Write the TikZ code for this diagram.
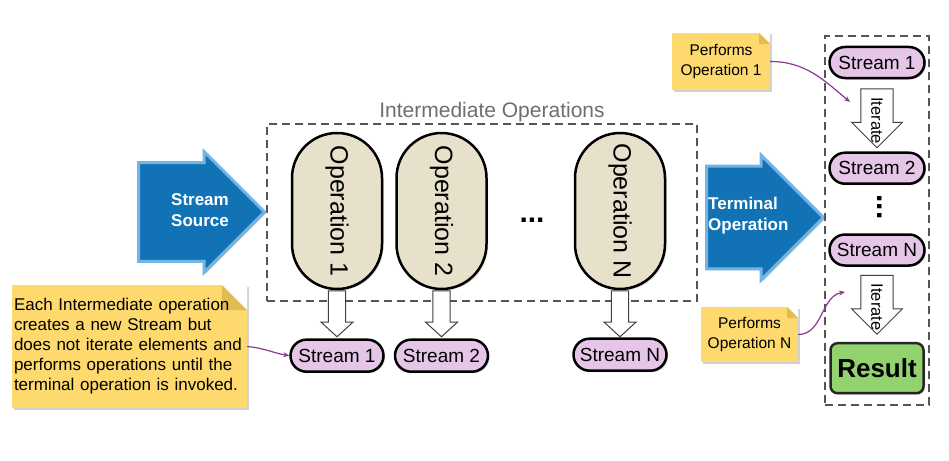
\documentclass[tikz,border=0pt]{standalone}
\usepackage{fontspec}
\setmainfont{Liberation Sans}
\usetikzlibrary{shapes.arrows, shapes.misc, positioning, arrows.meta, shadows}
\definecolor{flowBlue}{HTML}{1272B6}
\definecolor{flowRim}{HTML}{74B4E4}
\definecolor{opBeige}{HTML}{E7E1CC}
\definecolor{streamPink}{HTML}{E6C6E6}
\definecolor{resultGreen}{HTML}{92D36F}
\definecolor{noteYellow}{HTML}{FDD96E}
\definecolor{noteFold}{HTML}{E0BC52}
\definecolor{linkPurple}{HTML}{8A3A8E}
\definecolor{boxGray}{HTML}{555555}
\definecolor{titleGray}{HTML}{6E6E6E}
\tikzset{
  softshadow/.style={drop shadow={shadow xshift=1.5pt, shadow yshift=-1.5pt, fill=black, opacity=0.18}},
  bigarrow/.style={single arrow, draw=flowRim, fill=flowBlue, line width=3pt,
                   single arrow tip angle=90, inner xsep=0pt, softshadow},
  arrowlabel/.style={text=white, inner sep=0pt,
                     font=\fontsize{17}{21}\selectfont\bfseries},
  opbox/.style={draw=black, fill=opBeige, line width=2.5pt, rounded corners=45pt,
                minimum width=90pt, minimum height=156pt, inner sep=0pt,
                font=\fontsize{25}{30}\selectfont, softshadow},
  streamnode/.style={rounded rectangle, draw=black, fill=streamPink, line width=2.5pt,
                     minimum width=93pt, minimum height=32pt, inner sep=0pt,
                     font=\fontsize{19}{22}\selectfont, softshadow},
  downarrow/.style={single arrow, rotate=-90, draw=black!75, fill=white, line width=1pt,
                    single arrow tip angle=95,
                    minimum width=32pt, minimum height=46pt, inner sep=8pt},
  iterarrow/.style={single arrow, rotate=-90, draw=black!75, fill=white, line width=1pt,
                    single arrow tip angle=90,
                    minimum width=51pt, minimum height=59pt, inner xsep=0pt, inner ysep=6pt,
                    font=\fontsize{16.5}{20}\selectfont},
  resultnode/.style={draw=black!85, fill=resultGreen, line width=2.5pt, rounded corners=7pt,
                     minimum width=93pt, minimum height=50pt, inner sep=0pt,
                     font=\fontsize{26}{30}\selectfont\bfseries, softshadow},
  groupbox/.style={draw=boxGray, dash pattern=on 8pt off 5pt, line width=1.3pt, inner sep=0pt},
  grouptitle/.style={text=titleGray, inner sep=0pt, font=\fontsize{21}{25}\selectfont},
  dotsnode/.style={inner sep=0pt, font=\fontsize{30}{30}\selectfont\bfseries},
  note/.style={fill=noteYellow, inner sep=0pt, softshadow, path picture={
      \fill[white] ([xshift=-#1]path picture bounding box.north east)
        -- (path picture bounding box.north east)
        -- ([yshift=-#1]path picture bounding box.north east) -- cycle;
      \fill[noteFold] ([xshift=-#1]path picture bounding box.north east)
        -- ([yshift=-#1]path picture bounding box.north east)
        -- ([xshift=-#1,yshift=-#1]path picture bounding box.north east) -- cycle;}},
  note/.default=11pt,
  link/.style={draw=linkPurple, line width=1.2pt, -{Stealth[length=6pt,width=5pt]}},
}
\newcommand\iterlabel{\makebox[26pt][l]{Iterate}}

\begin{document}
\begin{tikzpicture}[x=1pt,y=1pt]
\useasboundingbox (0,0) rectangle (949,-460);

% intermediate part
\node[groupbox, minimum width=430pt, minimum height=177pt] (inter) at (482,-212.5) {};
\node[grouptitle, anchor=base] (intertitle) at (492,-117) {Intermediate Operations};
\node[bigarrow, minimum height=126pt, minimum width=121pt, inner ysep=30pt, anchor=tail] (source) at (137,-212) {};
\node[arrowlabel, align=center] (sourcetext) at (200,-210.5) {Stream\\Source};

\node[opbox] (op1) at (337,-211) {\rotatebox{-90}{Operation 1}};
\node[opbox] (op2) at (441.5,-211) {\rotatebox{-90}{Operation 2}};
\node[opbox] (opn) at (620,-211) {\rotatebox{-90}{Operation N}};
\node[dotsnode] (hdots) at (532,-220) {...};

\node[downarrow, anchor=tail] (d1) at (op1.south) {};
\node[downarrow, anchor=tail] (d2) at (op2.south) {};
\node[downarrow, anchor=tail] (dn) at (opn.south) {};
\node[streamnode, anchor=north] (s1) at ([yshift=-1pt]d1.tip) {Stream 1};
\node[streamnode, anchor=north] (s2) at ([yshift=-1pt]d2.tip) {Stream 2};
\node[streamnode, anchor=north] (sn) at ([yshift=0pt]dn.tip) {Stream N};

% terminal part
\node[bigarrow, minimum height=117pt, minimum width=125pt, inner ysep=31.5pt, anchor=tail] (term) at (705,-217.5) {};
\node[arrowlabel, align=left, anchor=west] (termtext) at ([xshift=3pt,yshift=2pt]term.tail) {Terminal\\Operation};

\node[groupbox, minimum width=104pt, minimum height=369pt] (termbox) at (877,-220.5) {};
\node[streamnode, minimum width=95pt, minimum height=31pt] (r1) at (877,-62.5) {Stream 1};
\node[iterarrow, anchor=tail] (it1) at ([yshift=-9pt]r1.south) {\iterlabel};
\node[streamnode, minimum width=95pt, minimum height=31pt, anchor=north] (r2) at ([yshift=-3pt]it1.tip) {Stream 2};
\node[dotsnode, rotate=-90] (vdots) at (880,-207) {...};
\node[streamnode, minimum width=95pt, minimum height=31pt] (rn) at (877,-250) {Stream N};
\node[iterarrow, anchor=tail] (it2) at ([yshift=-8pt]rn.south) {\iterlabel};
\node[resultnode, anchor=north] (result) at ([yshift=-7pt]it2.tip) {Result};

% notes
\node[note=25pt, minimum width=235pt, minimum height=123pt, text width=231pt, align=left,
      font=\fontsize{17}{20}\selectfont] (opnote) at (129.5,-346.5)
  {Each Intermediate operation\\creates a new Stream but\\does not iterate elements and\\performs operations until the\\terminal operation is invoked.};
\node[note, minimum width=98pt, minimum height=57pt, align=center,
      font=\fontsize{15.5}{19.5}\selectfont] (note1) at (721,-61.5) {Performs\\Operation 1};
\node[note, minimum width=97pt, minimum height=55pt, align=center,
      font=\fontsize{15.5}{19.5}\selectfont] (noten) at (749.5,-334.5) {Performs\\Operation N};

\coordinate (it1in) at (850,-102);
\coordinate (it2in) at (845,-292);
\draw[link] (opnote.east) to[out=-5,in=170] (s1.west);
\draw[link] (note1.east) to[out=0,in=140] (it1in);
\draw[link] (noten.east) to[out=0,in=190] (it2in);
\end{tikzpicture}
\end{document}
